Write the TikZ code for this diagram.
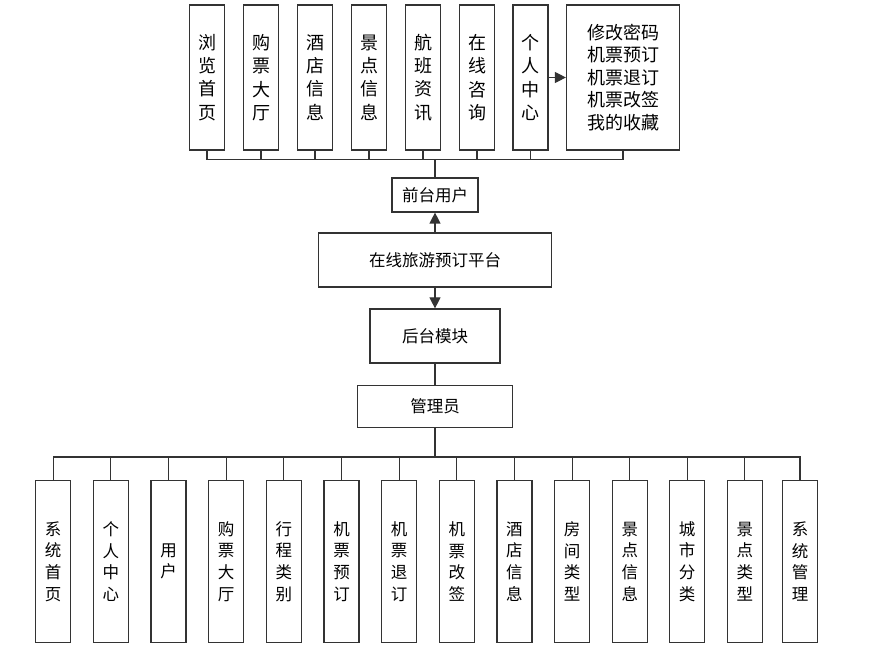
\documentclass[tikz,border=0pt]{standalone}
\usepackage{fontspec}
\newfontfamily\cjk{Noto Sans CJK SC}
\usepackage{tikz}
\usetikzlibrary{arrows.meta}

\begin{document}
\begin{tikzpicture}[x=1pt, y=-1pt,
    topbox/.style={draw=black!80, line width=1.2pt, fill=white, inner sep=0pt,
                minimum width=35pt, minimum height=145pt, align=center,
                font=\cjk\fontsize{18}{23.3}\selectfont},
    listbox/.style={topbox, minimum width=113pt, font=\cjk\fontsize{18}{22.5}\selectfont},
    midbox/.style={draw=black!80, line width=1.2pt, fill=white, inner sep=0pt,
                align=center, font=\cjk\fontsize{16.5}{20}\selectfont},
    botbox/.style={topbox, minimum height=162pt, font=\cjk\fontsize{16.5}{21.7}\selectfont},
    link/.style={draw=black!80, line width=1.2pt},
    arr/.style={link, -{Triangle[length=11pt, width=11pt]}}
  ]
    \useasboundingbox (0,0) rectangle (879,652);

    % front-end pages
    \node[topbox] (browse) at (207, 77.5) {浏\\览\\首\\页};
    \node[topbox] (ticket) at (261, 77.5) {购\\票\\大\\厅};
    \node[topbox] (hotel) at (315, 77.5) {酒\\店\\信\\息};
    \node[topbox] (spot) at (369, 77.5) {景\\点\\信\\息};
    \node[topbox] (flight) at (423, 77.5) {航\\班\\资\\讯};
    \node[topbox] (consult) at (477, 77.5) {在\\线\\咨\\询};
    \node[topbox] (center) at (530.5, 77.5) {个\\人\\中\\心};
    \node[listbox] (funcs) at (623, 77.5) {修改密码\\机票预订\\机票退订\\机票改签\\我的收藏};

    \node[midbox, minimum width=86pt, minimum height=34pt] (front) at (435, 195) {前台用户};
    \node[midbox, minimum width=233pt, minimum height=54pt] (platform) at (435, 260) {在线旅游预订平台};
    \node[midbox, minimum width=130pt, minimum height=54pt] (back) at (435, 336) {后台模块};
    \node[midbox, minimum width=155pt, minimum height=42pt] (admin) at (435, 406.5) {管理员};

    % back-end modules
    \node[botbox] (m1) at (53.2, 561.5) {系\\统\\首\\页};
    \node[botbox] (m2) at (110.8, 561.5) {个\\人\\中\\心};
    \node[botbox] (m3) at (168.5, 561.5) {用\\户};
    \node[botbox] (m4) at (226.2, 561.5) {购\\票\\大\\厅};
    \node[botbox] (m5) at (283.8, 561.5) {行\\程\\类\\别};
    \node[botbox] (m6) at (341.5, 561.5) {机\\票\\预\\订};
    \node[botbox] (m7) at (399.2, 561.5) {机\\票\\退\\订};
    \node[botbox] (m8) at (456.8, 561.5) {机\\票\\改\\签};
    \node[botbox] (m9) at (514.4, 561.5) {酒\\店\\信\\息};
    \node[botbox] (m10) at (572.2, 561.5) {房\\间\\类\\型};
    \node[botbox] (m11) at (629.8, 561.5) {景\\点\\信\\息};
    \node[botbox] (m12) at (687.2, 561.5) {城\\市\\分\\类};
    \node[botbox] (m13) at (744.8, 561.5) {景\\点\\类\\型};
    \node[botbox] (m14) at (800, 561.5) {系\\统\\管\\理};

    % upper tree
    \draw[link] (front.north) -- ++(0,-18) coordinate (ubus);
    \draw[link] (browse.south) |- (ubus) (ticket.south) |- (ubus)
        (hotel.south) |- (ubus) (spot.south) |- (ubus)
        (flight.south) |- (ubus) (consult.south) |- (ubus)
        (center.south) |- (ubus) (funcs.south) |- (ubus);
    \draw[arr] (center) -- (funcs);

    \draw[arr] (platform) -- (front);
    \draw[arr] (platform) -- (back);
    \draw[link] (back) -- (admin);

    % lower tree
    \draw[link] (admin.south) -- ++(0,29) coordinate (lbus);
    \draw[link] (m1.north) |- (lbus) (m2.north) |- (lbus)
        (m3.north) |- (lbus) (m4.north) |- (lbus)
        (m5.north) |- (lbus) (m6.north) |- (lbus)
        (m7.north) |- (lbus) (m8.north) |- (lbus)
        (m9.north) |- (lbus) (m10.north) |- (lbus)
        (m11.north) |- (lbus) (m12.north) |- (lbus)
        (m13.north) |- (lbus) (m14.north) |- (lbus);
  \end{tikzpicture}
\end{document}
